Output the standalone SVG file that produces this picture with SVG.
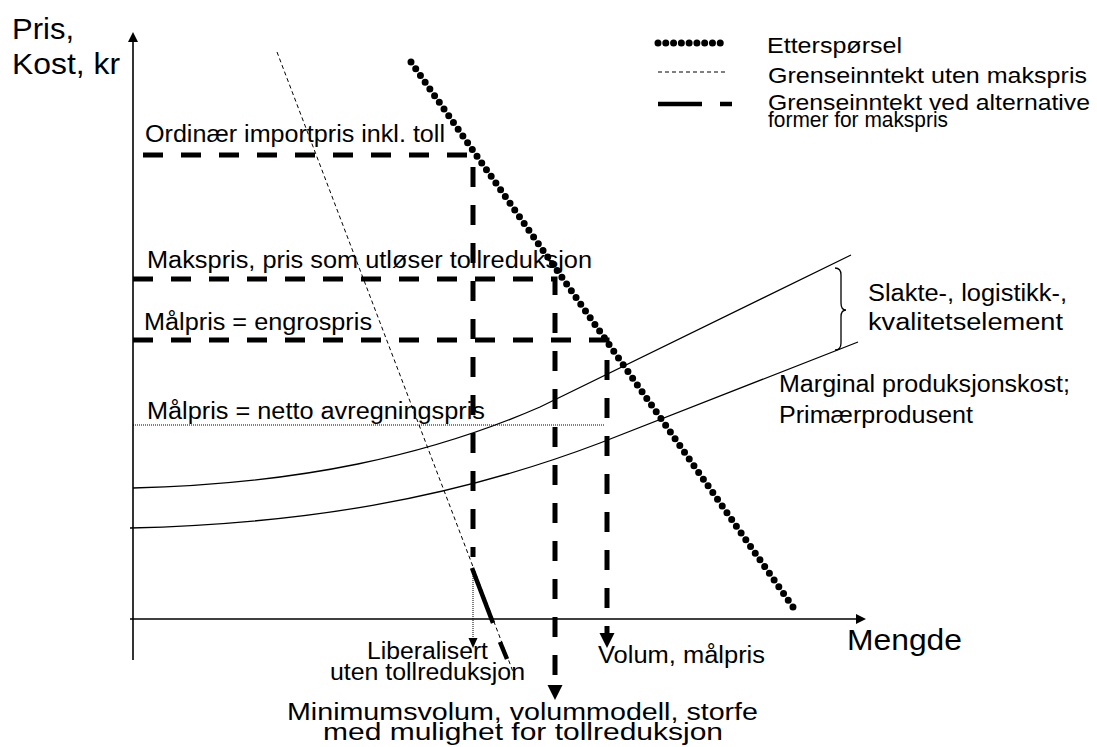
<svg xmlns="http://www.w3.org/2000/svg" width="1097" height="747" viewBox="0 0 1097 747">
<style>
text{font-family:"Liberation Sans",Arial,sans-serif;fill:#000}
.t22{font-size:23px}
.leg{font-size:22px}
.big{font-size:30px}
.axis{stroke:#000;stroke-width:1.6;fill:none}
.thick{stroke:#000;stroke-width:5;fill:none;stroke-dasharray:20 18}
.thin{stroke:#000;stroke-width:1.3;fill:none}
.dash{stroke:#000;stroke-width:1;fill:none;stroke-dasharray:4 3}
.dot{stroke:#000;stroke-width:1;fill:none;stroke-dasharray:1 1}
.demand{stroke:#000;stroke-width:7;fill:none;stroke-linecap:round}
.alt{stroke:#000;stroke-width:4.5;fill:none}
</style>
<defs>
<marker id="ax" markerUnits="userSpaceOnUse" markerWidth="11" markerHeight="11" refX="0" refY="5" orient="auto"><path d="M0,0 L10,5 L0,10 z" fill="#000"/></marker>
<marker id="big" markerUnits="userSpaceOnUse" markerWidth="16" markerHeight="16" refX="0" refY="7.5" orient="auto"><path d="M0,0 L15,7.5 L0,15 z" fill="#000"/></marker>
<marker id="sm" markerUnits="userSpaceOnUse" markerWidth="11" markerHeight="11" refX="0" refY="4.5" orient="auto"><path d="M0,0 L10,4.5 L0,9 z" fill="#000"/></marker>
</defs>

<g id="axes">
<line class="axis" x1="133" y1="660" x2="133" y2="42" marker-end="url(#ax)"/>
<line class="axis" x1="130" y1="619" x2="856" y2="619" marker-end="url(#ax)"/>
<text class="big" x="12" y="39" textLength="62" lengthAdjust="spacingAndGlyphs">Pris,</text>
<text class="big" x="12" y="74" textLength="108" lengthAdjust="spacingAndGlyphs">Kost, kr</text>
<text class="big" x="847" y="650" textLength="115" lengthAdjust="spacingAndGlyphs">Mengde</text>
</g>

<g id="cost-curves">
<path class="thin" d="M133,488 C300,484 430,455 540,407 L851,255"/>
<path class="thin" d="M130,528 C300,524 450,500 600,443 L858,342"/>
<path class="thin" d="M835,268 Q841,268 841,275 L841,303 Q841,310 846,310 Q841,310 841,317 L841,343 Q841,350 835,350"/>
</g>

<g id="connectors">
<path class="thick" d="M143,155 H473 V557"/>
<path class="thick" d="M133,279 H555 V685" marker-end="url(#big)"/>
<path class="thick" d="M133,340 H607 V633" marker-end="url(#big)"/>
<path class="dot" d="M133,425 H605"/>
<path class="dot" d="M473,568 V638" marker-end="url(#sm)"/>
<path class="dash" d="M277,52 L515,677"/>
<path class="alt" d="M472,568 L493,623"/>
<path class="alt" d="M500,642 L507,659"/>
<path class="demand" d="M411,62 L793,607" stroke-dasharray="0 8.216"/>
</g>

<g id="labels">
<text class="t22" x="145" y="142" textLength="300" lengthAdjust="spacingAndGlyphs">Ordinær importpris inkl. toll</text>
<text class="t22" x="147" y="268" textLength="445" lengthAdjust="spacingAndGlyphs">Makspris, pris som utløser tollreduksjon</text>
<text class="t22" x="144" y="330" textLength="228" lengthAdjust="spacingAndGlyphs">Målpris = engrospris</text>
<text class="t22" x="147" y="419" textLength="338" lengthAdjust="spacingAndGlyphs">Målpris = netto avregningspris</text>
<text class="t22" x="868" y="301" textLength="199" lengthAdjust="spacingAndGlyphs">Slakte-, logistikk-,</text>
<text class="t22" x="868" y="330" textLength="195" lengthAdjust="spacingAndGlyphs">kvalitetselement</text>
<text class="t22" x="779" y="392" textLength="291" lengthAdjust="spacingAndGlyphs">Marginal produksjonskost;</text>
<text class="t22" x="779" y="423" textLength="194" lengthAdjust="spacingAndGlyphs">Primærprodusent</text>
<text class="t22" x="367" y="659" textLength="121" lengthAdjust="spacingAndGlyphs">Liberalisert</text>
<text class="t22" x="330" y="680" textLength="195" lengthAdjust="spacingAndGlyphs">uten tollreduksjon</text>
<text class="t22" x="598" y="663" textLength="167" lengthAdjust="spacingAndGlyphs">Volum, målpris</text>
<text class="t22" x="287" y="720" textLength="471" lengthAdjust="spacingAndGlyphs">Minimumsvolum, volummodell, storfe</text>
<text class="t22" x="323" y="740" textLength="400" lengthAdjust="spacingAndGlyphs">med mulighet for tollreduksjon</text>
</g>

<g id="legend">
<path class="demand" d="M658,43 H728" stroke-dasharray="0 7.78" stroke-width="5.5"/>
<path class="dash" d="M658,72 H728"/>
<path class="alt" d="M658,104 H702 M720,104 H732" stroke-width="5"/>
<text class="leg" x="767" y="53" textLength="135" lengthAdjust="spacingAndGlyphs">Etterspørsel</text>
<text class="leg" x="768" y="83" textLength="319" lengthAdjust="spacingAndGlyphs">Grenseinntekt uten makspris</text>
<text class="leg" x="768" y="110" textLength="322" lengthAdjust="spacingAndGlyphs">Grenseinntekt ved alternative</text>
<text class="leg" x="768" y="127" textLength="180" lengthAdjust="spacingAndGlyphs">former for makspris</text>
</g>
</svg>
